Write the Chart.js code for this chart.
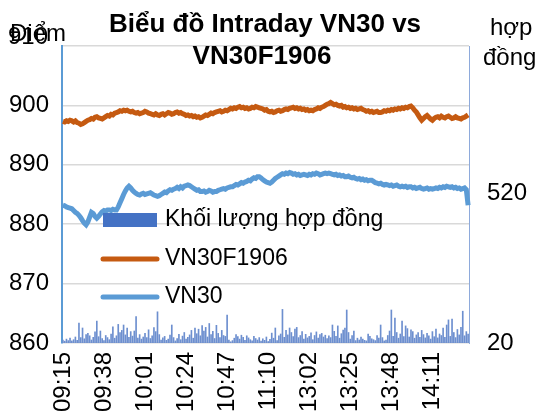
<!DOCTYPE html>
<html>
<head>
<meta charset="utf-8">
<script src="https://cdn.jsdelivr.net/npm/chart.js@4.4.1/dist/chart.umd.min.js"></script>
<style>
  html, body { margin: 0; padding: 0; background: #fff; }
  canvas { display: block; }
</style>
</head>
<body>
<canvas id="intradayChart" width="539" height="415"></canvas>
<script>
// Intraday VN30 vs VN30F1906 – minute data, morning + afternoon session, ATC at 14:45

/* ---------------------------- Data ---------------------------- */
const sessions   = [['09:15', '11:30'], ['13:00', '14:30']];
const closeLabel = '14:45';

const vn30f = [
  897.3, 897.2, 897.4, 897.3, 897.5, 897.4, 897.2, 897.4, 897.1, 897.0,
  896.8, 896.9, 897.1, 897.3, 897.5, 897.6, 897.8, 897.7, 898.0, 898.1,
  897.9, 897.8, 897.7, 897.9, 898.1, 898.3, 898.2, 898.5, 898.4, 898.7,
  898.8, 898.9, 899.1, 899.0, 899.2, 899.1, 899.2, 899.0, 898.9, 899.0,
  898.8, 898.7, 898.8, 898.6, 898.7, 898.8, 899.0, 898.9, 898.7, 898.6,
  898.5, 898.4, 898.6, 898.4, 898.3, 898.5, 898.6, 898.4, 898.6, 898.8,
  898.7, 898.5, 898.6, 898.8, 898.9, 898.7, 898.8, 898.6, 898.5, 898.3,
  898.4, 898.2, 898.3, 898.1, 898.2, 898.0, 898.1, 897.9, 898.0, 898.2,
  898.4, 898.3, 898.5, 898.7, 898.6, 898.8, 898.9, 899.0, 899.1, 898.9,
  899.0, 899.2, 899.1, 899.3, 899.5, 899.4, 899.6, 899.5, 899.7, 899.8,
  899.6, 899.7, 899.5, 899.6, 899.4, 899.5, 899.7, 899.6, 899.8, 899.7,
  899.6, 899.5, 899.4, 899.2, 899.3, 899.0, 898.9, 899.0, 898.8, 898.9,
  899.1, 899.2, 899.0, 899.1, 899.3, 899.4, 899.3, 899.5, 899.6, 899.7,
  899.5, 899.6, 899.4, 899.5, 899.3, 899.4, 899.2, 899.3, 899.1, 899.2,
  899.1, 899.3, 899.4, 899.6, 899.5, 899.7, 899.8, 900.0, 900.2, 900.3,
  900.5, 900.3, 900.1, 900.2, 900.0, 899.9, 900.0, 899.7, 899.8, 899.6,
  899.7, 899.5, 899.6, 899.4, 899.5, 899.3, 899.4, 899.5, 899.3, 899.2,
  899.0, 899.1, 898.9, 899.0, 898.8, 898.9, 899.0, 898.8, 898.8, 898.9,
  899.1, 899.0, 899.2, 899.1, 899.3, 899.2, 899.4, 899.3, 899.5, 899.4,
  899.6, 899.5, 899.7, 899.6, 899.8, 899.9, 899.6, 899.2, 898.9, 898.4,
  897.9, 897.5, 897.8, 898.1, 898.3, 898.0, 897.7, 897.5, 897.8, 898.0,
  898.1, 897.9, 898.2, 898.0, 897.9, 898.1, 898.2, 898.0, 897.8, 897.9,
  898.1, 897.9, 897.8, 897.7, 897.9, 898.0, 898.2, 898.4
];

const vn30 = [
  883.2, 883.1, 882.9, 882.8, 882.7, 882.6, 882.3, 882.0, 881.8, 881.5,
  881.1, 880.6, 880.2, 879.9, 880.4, 881.2, 882.0, 881.8, 881.3, 881.0,
  881.3, 881.7, 882.1, 882.3, 882.2, 882.4, 882.4, 882.3, 882.5, 882.4,
  882.4, 882.9, 883.6, 884.3, 885.0, 885.6, 886.1, 886.4, 886.1, 885.7,
  885.4, 885.2, 885.0, 884.9, 885.1, 885.2, 885.0, 885.1, 885.2, 885.3,
  885.1, 884.9, 884.8, 884.7, 884.8, 885.0, 885.2, 885.4, 885.3, 885.6,
  885.8, 885.7, 885.9, 886.0, 886.2, 886.0, 886.3, 886.1, 886.4, 886.5,
  886.6, 886.5, 886.3, 886.1, 885.9, 885.7, 885.8, 885.5, 885.5, 885.6,
  885.4, 885.5, 885.7, 885.6, 885.4, 885.5, 885.5, 885.7, 885.8, 885.9,
  886.0, 885.9, 886.1, 886.2, 886.3, 886.3, 886.5, 886.7, 886.6, 886.8,
  887.0, 886.9, 887.1, 887.2, 887.4, 887.3, 887.6, 887.8, 887.7, 888.0,
  888.0, 887.8, 887.5, 887.3, 887.1, 887.0, 886.9, 887.1, 887.4, 887.7,
  887.9, 888.1, 888.3, 888.5, 888.4, 888.6, 888.5, 888.7, 888.6, 888.4,
  888.5, 888.3, 888.4, 888.2, 888.3, 888.4, 888.3, 888.2, 888.4, 888.3,
  888.5, 888.4, 888.6, 888.5, 888.3, 888.4, 888.5, 888.6, 888.5, 888.6,
  888.5, 888.4, 888.3, 888.4, 888.2, 888.3, 888.1, 888.2, 888.0, 888.0,
  888.1, 887.9, 887.8, 887.9, 887.7, 887.6, 887.7, 887.5, 887.6, 887.4,
  887.5, 887.3, 887.4, 887.4, 887.2, 887.0, 886.9, 886.8, 886.9, 886.7,
  886.6, 886.7, 886.6, 886.5, 886.6, 886.4, 886.5, 886.6, 886.4, 886.3,
  886.4, 886.3, 886.4, 886.2, 886.3, 886.3, 886.1, 886.2, 886.0, 886.1,
  886.2, 886.0, 885.9, 886.0, 886.1, 885.9, 886.0, 885.9, 886.0, 886.1,
  886.0, 886.2, 886.1, 886.3, 886.2, 886.4, 886.3, 886.2, 886.3, 886.1,
  886.2, 886.0, 886.1, 885.9, 886.0, 886.1, 885.8, 883.2
];

const volume = [
  30, 26, 33, 28, 36, 27, 31, 40, 29, 86,
  38, 70, 34, 48, 52, 44, 30, 39, 57, 93,
  41, 60, 35, 28, 45, 38, 31, 50, 74, 36,
  44, 82, 55, 62, 80, 47, 70, 39, 58, 43,
  60, 108, 36, 48, 33, 40, 52, 38, 64, 35,
  44, 71, 58, 124, 48, 30, 37, 42, 29, 33,
  46, 80, 38, 27, 35, 49, 31, 43, 55, 33,
  39, 47, 62, 36, 70, 51, 66, 44, 78, 60,
  72, 40, 85, 48, 59, 35, 79, 52, 38, 62,
  45, 42, 113, 30, 24, 28, 36, 48, 41, 33,
  46, 39, 29, 44, 37, 31, 27, 42, 35, 30,
  38, 26, 34, 29, 40, 25, 32, 53, 36, 70,
  28, 44, 50, 132, 39, 62, 47, 70, 55, 41,
  66, 72, 38, 45, 58, 33, 49, 37, 42, 54,
  31, 45, 57, 36, 48, 52, 40, 46, 35, 44,
  38, 80, 59, 42, 77, 36, 51, 63, 70, 130,
  55, 33, 45, 60, 28, 36, 30, 40, 33, 29,
  27, 50, 42, 34, 31, 28, 45, 36, 80, 38,
  27, 30, 45, 60, 130, 42, 103, 55, 36, 50,
  93, 41, 77, 68, 40, 64, 58, 36, 47, 55,
  39, 62, 48, 37, 52, 44, 33, 58, 41, 66,
  37, 50, 45, 70, 39, 80, 97, 42, 100, 55,
  38, 65, 47, 72, 126, 44, 58, 50
];

const pointTicks  = [860, 870, 880, 890, 900, 910];
const volumeTicks = [20, 520];
const labelEvery  = 23;   // one time label every 23 minutes

const titleLines = ['Biểu đồ Intraday VN30 vs', 'VN30F1906'];

/* --------------------------- Helpers -------------------------- */
function minuteRange(from, to) {
  const toMin = s => { const [h, m] = s.split(':').map(Number); return h * 60 + m; };
  const pad = n => String(n).padStart(2, '0');
  const out = [];
  for (let t = toMin(from); t <= toMin(to); t++) out.push(pad(Math.floor(t / 60)) + ':' + pad(t % 60));
  return out;
}
const timeLabels = sessions.flatMap(([a, b]) => minuteRange(a, b)).concat(closeLabel);

const FONT = '"Liberation Sans", Arial, sans-serif';
const ORANGE = '#c55a11';
const BLUE   = '#5b9bd5';
const BAR    = '#4472c4';
const topTick = pointTicks[pointTicks.length - 1];

/* ---------------- Title / axis titles / legend ---------------- */
const decorations = {
  id: 'decorations',
  afterDatasetsDraw(chart) {
    const ctx = chart.ctx;
    ctx.save();
    // legend sits inside the plot, over the lines
    const rows = [220, 259, 297];
    ctx.font = '23px ' + FONT;
    ctx.textBaseline = 'middle';
    chart.data.datasets.forEach((ds, i) => {
      const y = rows[i];
      if (ds.type === 'bar') {
        ctx.fillStyle = BAR;
        ctx.fillRect(103, y - 7, 54, 14);
      } else {
        ctx.strokeStyle = ds.borderColor;
        ctx.lineWidth = 5;
        ctx.lineCap = 'round';
        ctx.beginPath();
        ctx.moveTo(103, y);
        ctx.lineTo(157, y);
        ctx.stroke();
      }
      ctx.fillStyle = '#000';
      ctx.fillText(ds.label, 165, y);
    });
    ctx.restore();
  },
  afterDraw(chart) {
    const ctx = chart.ctx;
    ctx.save();
    ctx.fillStyle = '#000';
    // top tick label sits a little higher, tucked under the axis title
    ctx.font = '24px ' + FONT;
    ctx.textAlign = 'right';
    ctx.textBaseline = 'middle';
    ctx.fillText(String(topTick), 48, chart.scales.y.getPixelForValue(topTick) - 9);
    ctx.textBaseline = 'alphabetic';
    ctx.font = 'bold 26px ' + FONT;
    ctx.textAlign = 'center';
    ctx.fillText(titleLines[0], 265, 32);
    ctx.fillText(titleLines[1], 262, 64);
    ctx.font = '24px ' + FONT;
    ctx.textAlign = 'left';
    ctx.fillText('Điểm', 10, 41);
    ctx.fillText('hợp', 490, 35);
    ctx.fillText('đồng', 483, 65);
    ctx.restore();
  }
};

/* ---------------------------- Chart --------------------------- */
new Chart(document.getElementById('intradayChart'), {
  data: {
    labels: timeLabels,
    datasets: [
      {
        type: 'bar', label: 'Khối lượng hợp đồng', data: volume,
        yAxisID: 'y1', backgroundColor: '#6d8fcf', barThickness: 1, order: 3
      },
      {
        type: 'line', label: 'VN30F1906', data: vn30f, yAxisID: 'y',
        borderColor: ORANGE, borderWidth: 5, pointRadius: 0, tension: 0, order: 1
      },
      {
        type: 'line', label: 'VN30', data: vn30, yAxisID: 'y',
        borderColor: BLUE, borderWidth: 5, pointRadius: 0, tension: 0, order: 2
      }
    ]
  },
  options: {
    responsive: false,
    animation: false,
    layout: { padding: { top: 46, left: 0, right: 0, bottom: 0 } },
    plugins: { legend: { display: false }, title: { display: false }, tooltip: { enabled: false } },
    scales: {
      x: {
        offset: true,
        grid: { display: false, drawTicks: false },
        border: { display: false },
        ticks: {
          autoSkip: false, minRotation: 90, maxRotation: 90, padding: 9,
          color: '#000', font: { family: FONT, size: 24 },
          callback(value, index) { return index % labelEvery === 0 ? this.getLabelForValue(value) : null; }
        },
        afterFit(scale) { scale.height = 72; }
      },
      y: {
        position: 'left', min: 860, max: 910,
        afterBuildTicks(scale) { scale.ticks = pointTicks.map(v => ({ value: v })); },
        grid: { color: '#d9d9d9', lineWidth: 1.5, drawTicks: false },
        border: { color: BLUE, width: 2 },
        ticks: {
          padding: 13, color: '#000', font: { family: FONT, size: 24 },
          callback: v => (v === topTick ? '' : v)
        },
        afterFit(scale) { scale.width = 62; }
      },
      y1: {
        position: 'right', min: 20, max: 1010,
        afterBuildTicks(scale) { scale.ticks = volumeTicks.map(v => ({ value: v })); },
        grid: { display: false, drawTicks: false },
        border: { color: '#8eaadb', width: 1 },
        ticks: { padding: 18, color: '#000', font: { family: FONT, size: 24 } },
        afterFit(scale) { scale.width = 70; }
      }
    }
  },
  plugins: [decorations]
});
</script>
</body>
</html>
